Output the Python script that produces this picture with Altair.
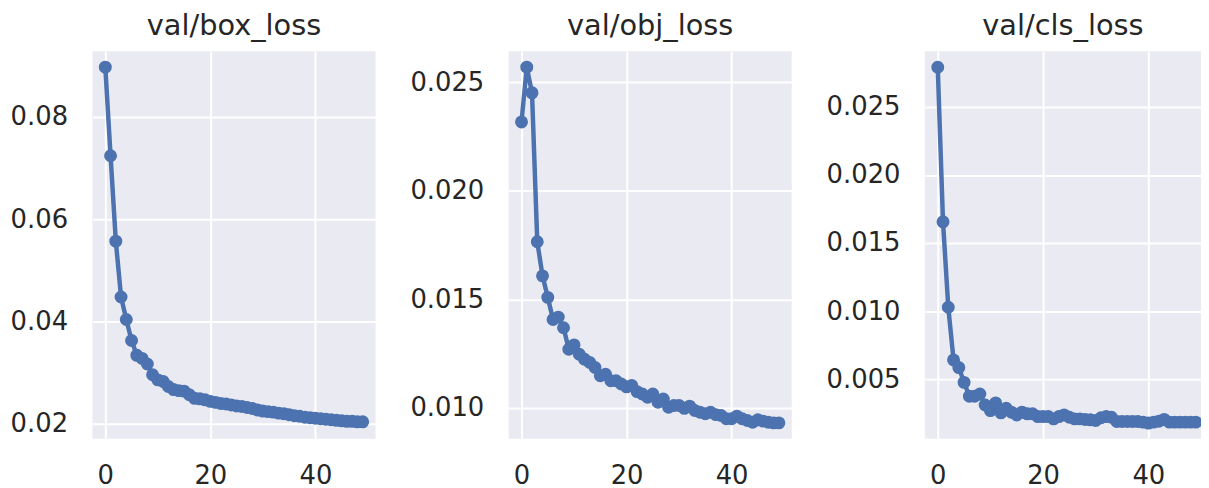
import altair as alt
import pandas as pd

epochs = list(range(50))

box_loss = [0.0897, 0.0724, 0.0557, 0.0448, 0.0404, 0.0363, 0.0334, 0.0328, 0.0317, 0.0296,
            0.0286, 0.0283, 0.0273, 0.0267, 0.0265, 0.0264, 0.0257, 0.0250, 0.0249, 0.0247,
            0.0244, 0.0242, 0.0240, 0.0239, 0.0237, 0.0235, 0.0234, 0.0232, 0.0230, 0.0227,
            0.0225, 0.0224, 0.0223, 0.0221, 0.0220, 0.0218, 0.0216, 0.0215, 0.0213, 0.0212,
            0.0211, 0.0210, 0.0209, 0.0208, 0.0207, 0.0206, 0.0205, 0.0205, 0.0204, 0.0204]

obj_loss = [0.02317, 0.02569, 0.02451, 0.01765, 0.01608, 0.01509, 0.01407, 0.01418, 0.01369, 0.01270,
            0.01290, 0.01247, 0.01224, 0.01209, 0.01186, 0.01148, 0.01155, 0.01125, 0.01125, 0.01110,
            0.01097, 0.01103, 0.01075, 0.01064, 0.01049, 0.01064, 0.01026, 0.01041, 0.01003, 0.01011,
            0.01011, 0.00998, 0.01008, 0.00988, 0.00980, 0.00973, 0.00980, 0.00969, 0.00965, 0.00950,
            0.00950, 0.00962, 0.00950, 0.00942, 0.00934, 0.00945, 0.00939, 0.00934, 0.00931, 0.00931]

cls_loss = [0.02792, 0.01656, 0.01028, 0.00641, 0.00585, 0.00476, 0.00374, 0.00374, 0.00391, 0.00310,
            0.00269, 0.00325, 0.00252, 0.00286, 0.00257, 0.00237, 0.00257, 0.00245, 0.00245, 0.00225,
            0.00225, 0.00225, 0.00208, 0.00225, 0.00237, 0.00220, 0.00208, 0.00208, 0.00204, 0.00201,
            0.00196, 0.00216, 0.00225, 0.00220, 0.00189, 0.00189, 0.00189, 0.00189, 0.00189, 0.00184,
            0.00177, 0.00184, 0.00191, 0.00204, 0.00184, 0.00184, 0.00184, 0.00184, 0.00184, 0.00184]

titles = ["val/box_loss", "val/obj_loss", "val/cls_loss"]
series = [box_loss, obj_loss, cls_loss]
y_domains = [[0.0171, 0.0928], [0.00858, 0.02642], [0.00062, 0.02909]]
y_ticks = [[0.02, 0.04, 0.06, 0.08],
           [0.010, 0.015, 0.020, 0.025],
           [0.005, 0.010, 0.015, 0.020, 0.025]]
y_formats = [".2f", ".3f", ".3f"]
x_domains = [[-2.45, 51.45], [-2.45, 51.45], [-2.45, 50.0]]
x_ticks = [0, 20, 40]
widths = [285, 285, 278]
extents = [85, 100, 100]

LINE = "#4C72B0"
TEXT = "#262626"
FONT = "DejaVu Sans"


def panel(i):
    df = pd.DataFrame({"epoch": epochs, "value": series[i]})
    base = alt.Chart(df).encode(
        x=alt.X("epoch:Q",
                scale=alt.Scale(domain=x_domains[i], nice=False, zero=False),
                axis=alt.Axis(values=x_ticks, title=None, format="d",
                              labelPadding=24, labelFlush=False)),
        y=alt.Y("value:Q",
                scale=alt.Scale(domain=y_domains[i], nice=False, zero=False),
                axis=alt.Axis(values=y_ticks[i], format=y_formats[i], title=None,
                              labelPadding=25, minExtent=extents[i], maxExtent=extents[i])),
    )
    line = base.mark_line(color=LINE, strokeWidth=4.5, clip=True)
    pts = base.mark_circle(color=LINE, size=170, opacity=1, clip=True)
    return alt.layer(line, pts).properties(
        width=widths[i], height=390,
        title=alt.TitleParams(titles[i], fontSize=29, font=FONT, fontWeight="normal",
                              color=TEXT, offset=10, anchor="middle"),
    )


chart = alt.hconcat(panel(0), panel(1), panel(2), spacing=34).properties(
    padding={"left": 0, "top": 3, "right": 0, "bottom": 0},
    background="white",
).configure_view(
    fill="#EAEAF2", strokeWidth=0
).configure_axis(
    grid=True, gridColor="white", gridWidth=2, gridOpacity=1,
    domain=False, ticks=False,
    labelFont=FONT, labelFontSize=26, labelColor=TEXT,
)

chart.save("out.html", embed_options={"renderer": "svg", "actions": False})
